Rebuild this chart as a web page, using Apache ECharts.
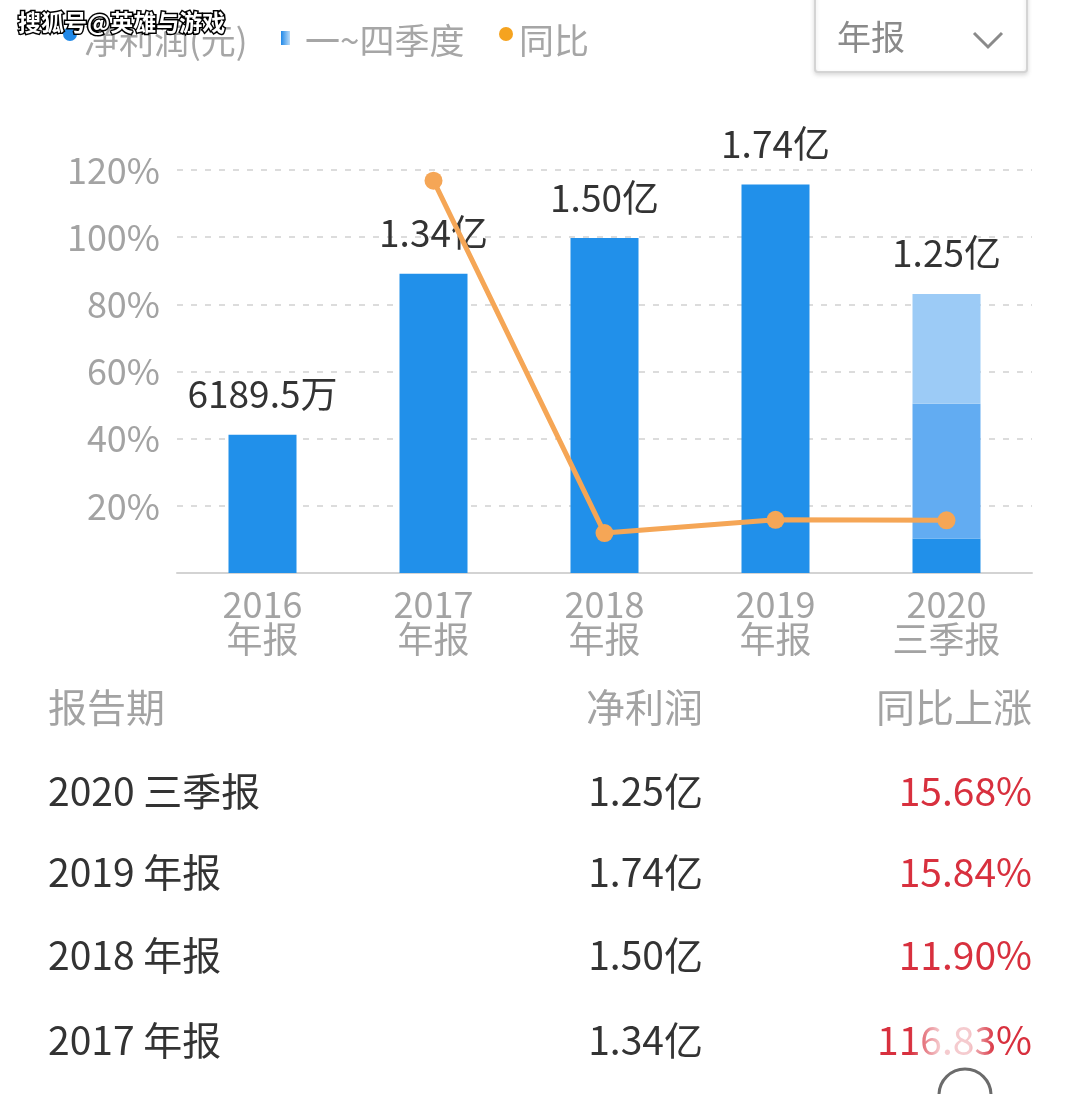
<!DOCTYPE html>
<html>
<head>
<meta charset="utf-8">
<script src="https://cdn.jsdelivr.net/npm/echarts@6/dist/echarts.min.js"></script>
<style>
html,body{margin:0;padding:0;background:#fff;}
#c{width:1076px;height:1094px;}
</style>
</head>
<body>
<div id="c"></div>
<script>
// ---- data ----
const categories = ['2016\n年报', '2017\n年报', '2018\n年报', '2019\n年报', '2020\n三季报'];
const netProfit = [0.619, 1.34, 1.50, 1.74, '-'];          // 亿元 (annual reports)
const quarter1 = ['-', '-', '-', '-', 0.154];              // 2020 Q1 (亿元)
const quarter2 = ['-', '-', '-', '-', 0.604];              // 2020 Q2
const quarter3 = ['-', '-', '-', '-', 0.492];              // 2020 Q3
const profitLabels = ['6189.5万', '1.34亿', '1.50亿', '1.74亿', '1.25亿'];
const yoy = ['-', 116.83, 11.90, 15.84, 15.68];            // %
const yTicks = [0, 20, 40, 60, 80, 100, 120];

const tableHeader = ['报告期', '净利润', '同比上涨'];
const tablePeriods = ['2020 三季报', '2019 年报', '2018 年报', '2017 年报'];
const tableProfit = ['1.25亿', '1.74亿', '1.50亿', '1.34亿'];
const tableYoy = ['15.68%', '15.84%', '11.90%', '116.83%'];

const legendNames = ['净利润(元)', '一~四季度', '同比'];

// ---- chart ----
const FONT = '"Noto Sans CJK SC", "Noto Sans", sans-serif';
const chart = echarts.init(document.getElementById('c'));

const barLabel = {
  show: true, position: 'top', distance: 22,
  color: '#333', fontSize: 37, fontFamily: FONT,
  formatter: p => profitLabels[p.dataIndex]
};

const graphics = [];
// legend
graphics.push({type:'circle', shape:{cx:70, cy:34, r:7}, style:{fill:'#2189e8'}});
graphics.push({type:'text', style:{x:84, y:41, text:legendNames[0], fill:'#a6a6a6', font:'35px ' + FONT, verticalAlign:'middle'}});
graphics.push({type:'rect', shape:{x:281, y:31, width:9, height:14}, style:{fill:new echarts.graphic.LinearGradient(0,0,1,0,[{offset:0,color:'#2189e8'},{offset:1,color:'#bcdcf8'}])}});
graphics.push({type:'text', style:{x:305, y:41, text:legendNames[1], fill:'#a6a6a6', font:'35px ' + FONT, verticalAlign:'middle'}});
graphics.push({type:'circle', shape:{cx:506, cy:34, r:7}, style:{fill:'#f5a31f'}});
graphics.push({type:'text', style:{x:519, y:41, text:legendNames[2], fill:'#a6a6a6', font:'35px ' + FONT, verticalAlign:'middle'}});
// dropdown
graphics.push({type:'rect', shape:{x:815, y:-10, width:212, height:82, r:3}, style:{fill:'#fff', stroke:'#d4d4d4', lineWidth:2, shadowBlur:4, shadowColor:'rgba(0,0,0,0.12)', shadowOffsetY:2}});
graphics.push({type:'text', style:{x:837, y:37, text:'年报', fill:'#8a8a8a', font:'34px ' + FONT, verticalAlign:'middle'}});
graphics.push({type:'polyline', shape:{points:[[974,33],[988,47],[1002,33]]}, style:{stroke:'#8a8a8a', lineWidth:3, fill:null}});
// table
const colX = [48, 703, 1032];
const colAlign = ['left', 'right', 'right'];
const TF = '39px ' + FONT;
tableHeader.forEach((t, i) => {
  graphics.push({type:'text', style:{x:colX[i], y:707, text:t, fill:'#a3a3a3', font:TF, align:colAlign[i], verticalAlign:'middle'}});
});
const rowY = [791, 872, 955, 1040];
tablePeriods.forEach((t, r) => {
  graphics.push({type:'text', style:{x:colX[0], y:rowY[r], text:t, fill:'#333', font:TF, align:'left', verticalAlign:'middle'}});
  graphics.push({type:'text', style:{x:colX[1], y:rowY[r], text:tableProfit[r], fill:'#333', font:TF, align:'right', verticalAlign:'middle'}});
  graphics.push({type:'text', style:{x:colX[2], y:rowY[r], text:tableYoy[r], fill:'#d8303e', font:TF, align:'right', verticalAlign:'middle'}});
});
// fade over last row value
graphics.push({type:'rect', shape:{x:910, y:1020, width:85, height:44}, style:{fill:new echarts.graphic.LinearGradient(0,0,1,0,[{offset:0,color:'rgba(255,255,255,0)'},{offset:0.35,color:'rgba(255,255,255,0.75)'},{offset:0.7,color:'rgba(255,255,255,0.75)'},{offset:1,color:'rgba(255,255,255,0)'}])}});
// bottom circle
graphics.push({type:'circle', shape:{cx:965, cy:1095, r:26}, style:{fill:'rgba(255,255,255,0.6)', stroke:'#6b6b6b', lineWidth:3}});
// watermark
graphics.push({type:'text', z:100, style:{x:18, y:22, text:'搜狐号@英雄与游戏', fill:'#fff', stroke:'#000', lineWidth:3, font:'bold 23px ' + FONT, verticalAlign:'middle'}});

chart.setOption({
  animation: false,
  backgroundColor: '#fff',
  grid: {left: 177, right: 44, top: 170, bottom: 521},
  xAxis: {
    type: 'category', data: categories,
    axisTick: {show: false},
    axisLine: {lineStyle: {color: '#d3d3d3', width: 2}},
    axisLabel: {color: '#a3a3a3', fontSize: 36, lineHeight: 35, margin: 14, fontFamily: FONT}
  },
  yAxis: [
    {
      type: 'value', min: yTicks[0], max: yTicks[yTicks.length - 1], interval: 20,
      axisLine: {show: false}, axisTick: {show: false},
      axisLabel: {color: '#a3a3a3', fontSize: 36, margin: 17, fontFamily: FONT,
        formatter: v => v === 0 ? '' : v + '%'},
      splitLine: {lineStyle: {color: '#dcdcdc', type: [6, 8], width: 2}}
    },
    {type: 'value', min: 0, max: 1.805, show: false, splitLine: {show: false}}
  ],
  series: [
    {name: '净利润', type: 'bar', yAxisIndex: 1, stack: 'p', barWidth: 68,
      data: netProfit, itemStyle: {color: '#2190ea'}, label: barLabel},
    {name: 'Q1', type: 'bar', yAxisIndex: 1, stack: 'p', barWidth: 68,
      data: quarter1, itemStyle: {color: '#2190ea'}},
    {name: 'Q2', type: 'bar', yAxisIndex: 1, stack: 'p', barWidth: 68,
      data: quarter2, itemStyle: {color: '#62acf2'}},
    {name: 'Q3', type: 'bar', yAxisIndex: 1, stack: 'p', barWidth: 68,
      data: quarter3, itemStyle: {color: '#9ccbf6'}, label: barLabel},
    {name: '同比', type: 'line', yAxisIndex: 0, data: yoy, z: 10,
      symbol: 'circle', symbolSize: 18, showSymbol: true,
      lineStyle: {color: '#f5a656', width: 5},
      itemStyle: {color: '#f5a656'}}
  ],
  graphic: graphics
});
</script>
</body>
</html>
